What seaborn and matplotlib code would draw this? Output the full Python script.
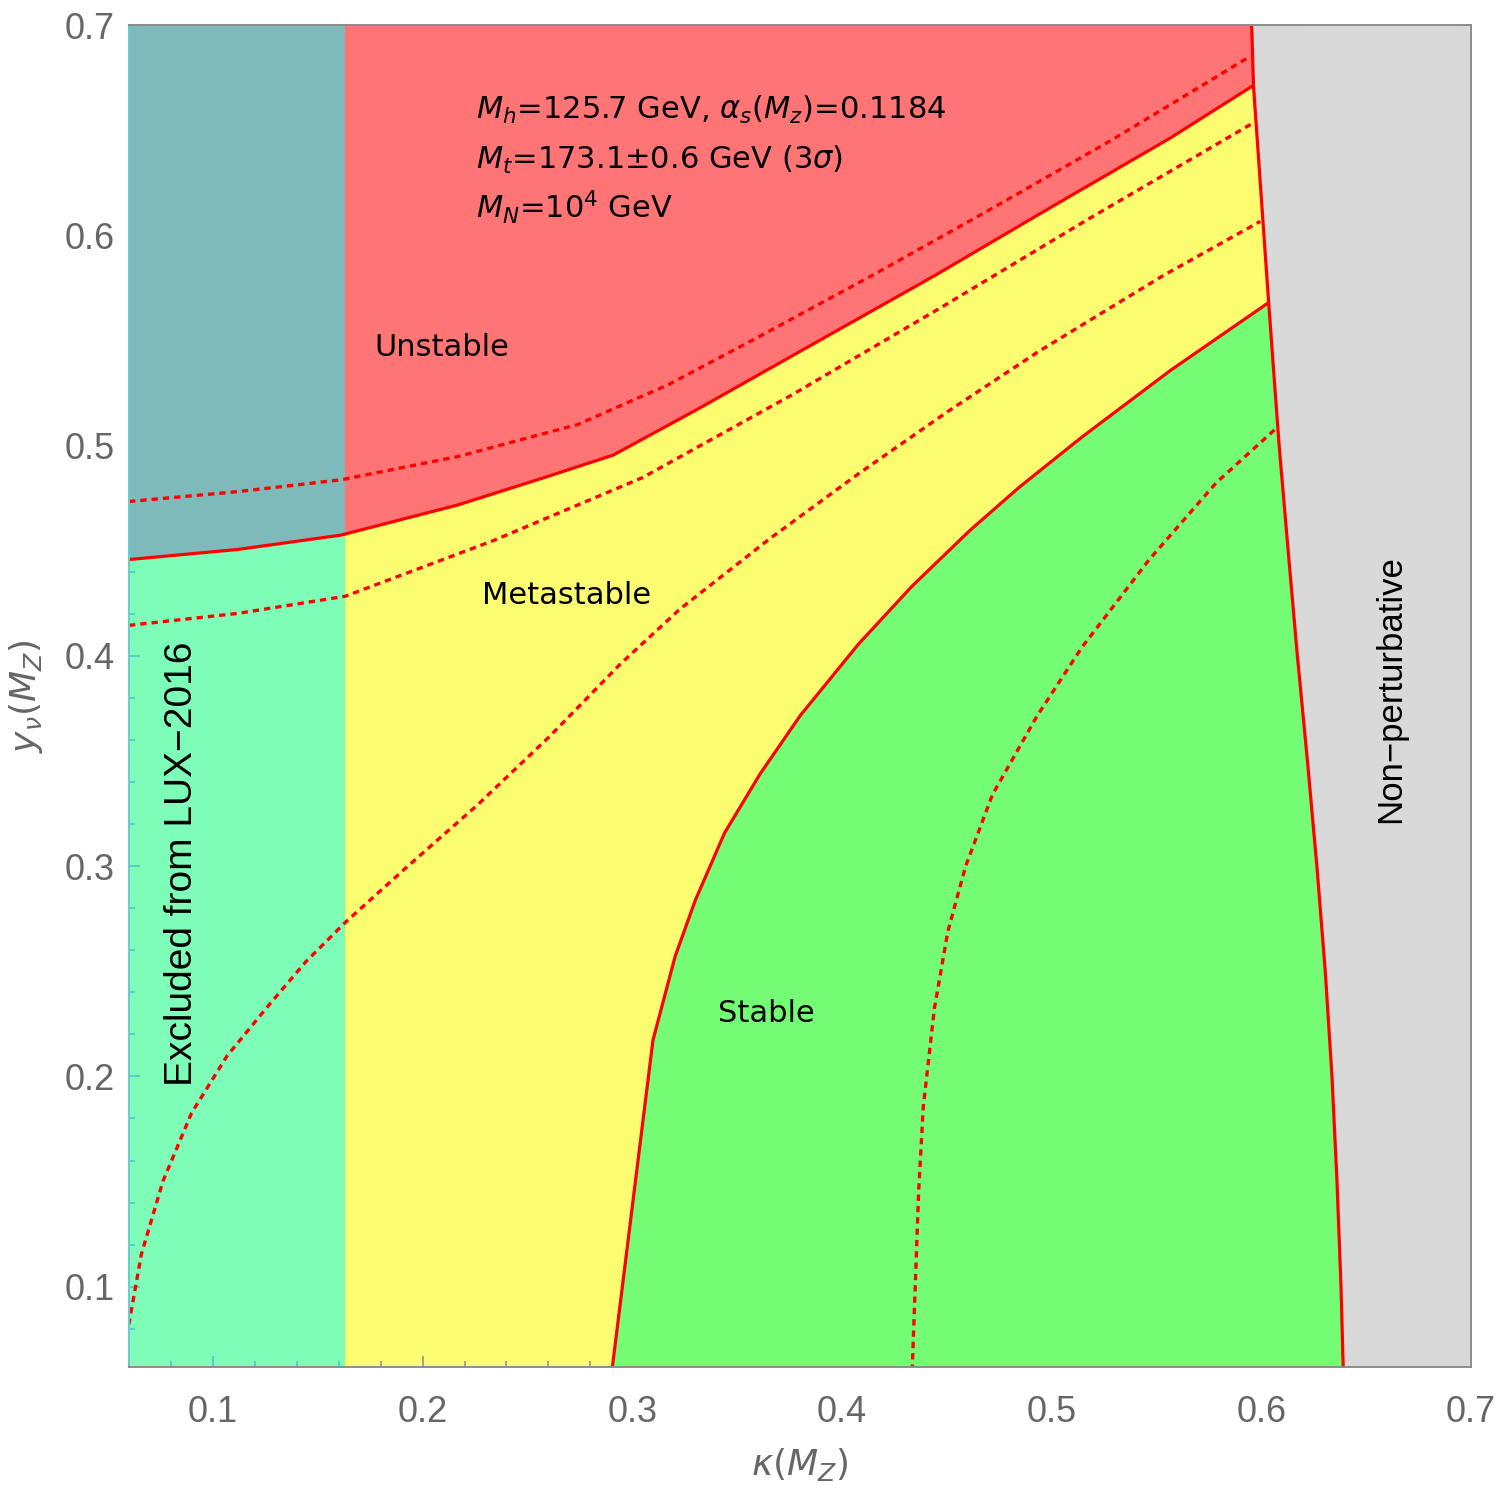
import matplotlib
matplotlib.use("Agg")
import matplotlib.pyplot as plt
from matplotlib.ticker import MultipleLocator
import pandas as pd
import seaborn as sns

# curves: x = kappa(M_Z), y = y_nu(M_Z)
kap_unstable = [0.060, 0.112, 0.161, 0.217, 0.260, 0.291, 0.331, 0.387, 0.444, 0.500, 0.557, 0.5958]
yv_unstable = [0.4458, 0.4506, 0.4574, 0.4718, 0.4854, 0.4955, 0.5172, 0.5487, 0.5807, 0.6135, 0.6465, 0.6710]

kap_upper = [0.060, 0.112, 0.161, 0.217, 0.274, 0.3173, 0.359, 0.4155, 0.472, 0.529, 0.5944]
yv_upper = [0.4734, 0.4781, 0.4837, 0.4948, 0.5100, 0.5290, 0.5510, 0.5815, 0.6130, 0.6455, 0.6849]

kap_middle = [0.060, 0.112, 0.163, 0.234, 0.305, 0.376, 0.447, 0.518, 0.5954]
yv_middle = [0.4145, 0.4202, 0.4283, 0.4549, 0.4848, 0.5240, 0.5655, 0.6080, 0.6530]

kap_lower = [0.0599, 0.0659, 0.0762, 0.0898, 0.1068, 0.1273, 0.1443, 0.1631, 0.1921, 0.2262,
             0.2603, 0.2944, 0.3227, 0.3653, 0.4079, 0.4505, 0.4931, 0.5528, 0.5995]
yv_lower = [0.0820, 0.1154, 0.1502, 0.1825, 0.2098, 0.2346, 0.2545, 0.2732, 0.2992, 0.3291,
            0.3614, 0.3962, 0.4222, 0.4555, 0.4866, 0.5162, 0.5443, 0.5806, 0.6066]

kap_stable = [0.2903, 0.3099, 0.3205, 0.3301, 0.3440, 0.3610, 0.3802, 0.4079, 0.4335, 0.4612,
              0.4846, 0.5144, 0.5569, 0.6035]
yv_stable = [0.060, 0.2173, 0.2572, 0.2838, 0.3157, 0.3439, 0.3717, 0.4056, 0.4332, 0.4598,
             0.4802, 0.5040, 0.5359, 0.5680]

kap_stable_dash = [0.4335, 0.4366, 0.4388, 0.4441, 0.4505, 0.4590, 0.4718, 0.4931, 0.5144, 0.5464, 0.5784, 0.6071]
yv_stable_dash = [0.060, 0.1456, 0.1856, 0.2323, 0.2689, 0.3000, 0.3340, 0.3715, 0.4040, 0.4456, 0.4822, 0.5082]

kap_nonpert = [0.5954, 0.5963, 0.6035, 0.6085, 0.6128, 0.6172, 0.6220, 0.6265, 0.6305, 0.6337,
               0.6361, 0.6380, 0.6391]
yv_nonpert = [0.700, 0.6707, 0.5680, 0.500, 0.450, 0.400, 0.350, 0.300, 0.250, 0.200,
              0.150, 0.100, 0.060]

lux_limit = 0.163
x_range = (0.06, 0.70)
y_range = (0.0618, 0.70)
x_ticks = [0.1, 0.2, 0.3, 0.4, 0.5, 0.6, 0.7]
y_ticks = [0.1, 0.2, 0.3, 0.4, 0.5, 0.6, 0.7]

RED = "#ff7575"
YELLOW = "#fcfc70"
GREEN = "#74fd74"
GREY = "#d9d9d9"

sns.set_style("ticks")
plt.rcParams["font.family"] = ["Liberation Sans", "DejaVu Sans"]
plt.rcParams["mathtext.fontset"] = "dejavusans"

fig = plt.figure(figsize=(15.05, 14.9), dpi=100)
ax = fig.add_axes([129 / 1505, 123 / 1490, 1342 / 1505, 1342 / 1490])
ax.set_facecolor(YELLOW)

# regions
ax.fill_between(kap_unstable + [0.62], yv_unstable + [0.68], y_range[1] + 0.01, color=RED, lw=0, zorder=1)
ax.fill(kap_stable + kap_nonpert[2:] + [kap_stable[0]],
        yv_stable + yv_nonpert[2:] + [yv_stable[0]], color=GREEN, lw=0, zorder=1)
ax.fill_betweenx(yv_nonpert, kap_nonpert, 0.71, color=GREY, lw=0, zorder=1.5)
ax.axvspan(x_range[0], lux_limit, color="cyan", alpha=0.5, lw=0, zorder=2)

# boundaries
solid = [(kap_unstable, yv_unstable), (kap_stable, yv_stable), (kap_nonpert, yv_nonpert)]
dashed = [(kap_upper, yv_upper), (kap_middle, yv_middle), (kap_lower, yv_lower),
          (kap_stable_dash, yv_stable_dash)]
for xs, ys in solid:
    df = pd.DataFrame({"k": xs, "y": ys})
    sns.lineplot(data=df, x="k", y="y", sort=False, estimator=None, color="red", lw=2.3, ax=ax, zorder=3)
for xs, ys in dashed:
    df = pd.DataFrame({"k": xs, "y": ys})
    sns.lineplot(data=df, x="k", y="y", sort=False, estimator=None, color="red", lw=2.4,
                 ax=ax, zorder=3).lines[-1].set_dashes((1.9, 1.5))

ax.set_xlim(*x_range)
ax.set_ylim(*y_range)
ax.set_xticks(x_ticks)
ax.set_yticks(y_ticks)
ax.xaxis.set_minor_locator(MultipleLocator(0.02))
ax.yaxis.set_minor_locator(MultipleLocator(0.02))
ax.tick_params(which="both", direction="in", top=True, right=True, color="#8c8c8c",
               labelcolor="#666666", labelsize=26, width=1.1)
ax.tick_params(which="major", length=8)
ax.tick_params(which="minor", length=4)
ax.tick_params(axis="x", pad=20)
ax.tick_params(axis="y", pad=10)
for s in ax.spines.values():
    s.set_color("#8c8c8c")
    s.set_linewidth(1.4)
    s.set_zorder(5)
ax.spines["left"].set_color("#66cccc")

ax.set_xlabel(r"$\kappa(M_Z)$", fontsize=26, color="#666666", labelpad=12)
ax.set_ylabel(r"$y_\nu(M_Z)$", fontsize=26, color="#666666", labelpad=14)

# annotations
txt = dict(family="DejaVu Sans", fontsize=22, color="black", zorder=6)
ax.text(0.2256, 0.6596, r"$M_h$=125.7 GeV, $\alpha_s(M_z)$=0.1184", va="center", ha="left", **txt)
ax.text(0.2256, 0.6359, r"$M_t$=173.1±0.6 GeV (3$\sigma$)", va="center", ha="left", **txt)
ax.text(0.2256, 0.6135, r"$M_N$=10$^4$ GeV", va="center", ha="left", **txt)
ax.text(0.2094, 0.5466, "Unstable", va="center", ha="center", **txt)
ax.text(0.2686, 0.4287, "Metastable", va="center", ha="center", **txt)
ax.text(0.3640, 0.2297, "Stable", va="center", ha="center", **txt)
ax.text(0.6619, 0.3841, "Non\u2212perturbative", va="center", ha="center", rotation=90,
        family="Liberation Sans", fontsize=25, color="black", zorder=6)
ax.text(0.0853, 0.3010, "Excluded from LUX\u22122016", va="center", ha="center", rotation=90,
        family="Liberation Sans", fontsize=28, color="black", zorder=6)

fig.savefig("out.png", dpi=100)
